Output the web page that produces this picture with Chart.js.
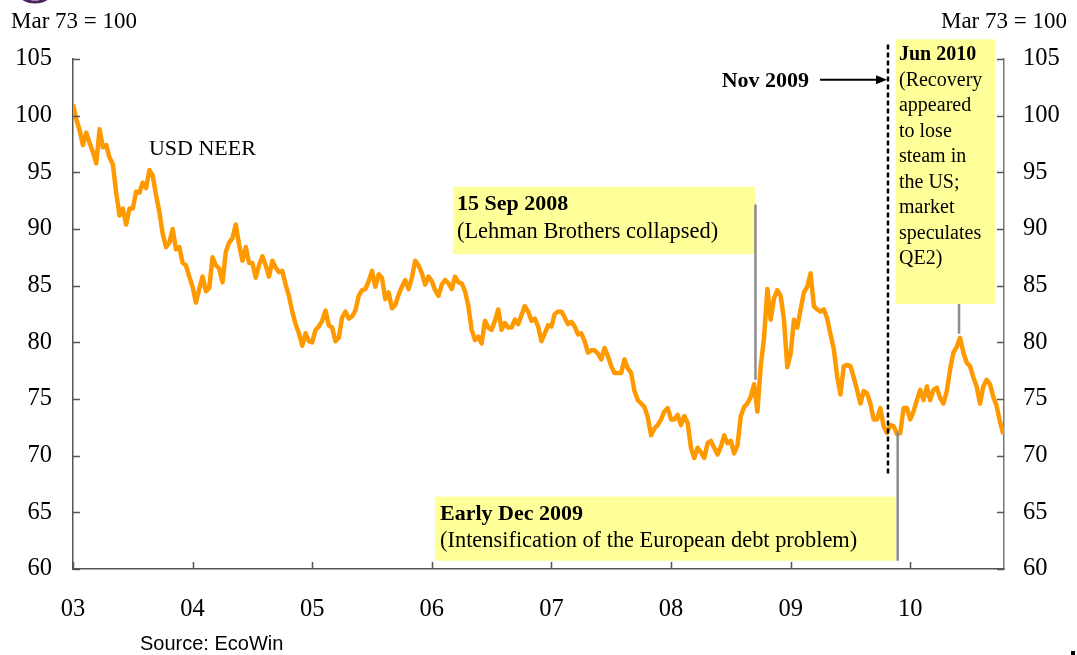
<!DOCTYPE html>
<html>
<head>
<meta charset="utf-8">
<script src="https://cdn.jsdelivr.net/npm/chart.js@4"></script>
<style>
  html, body { margin: 0; padding: 0; background: #fff; }
  #wrap { width: 1077px; height: 655px; }
</style>
</head>
<body>
<div id="wrap"><canvas id="neer" width="1077" height="655"></canvas></div>
<script>
// USD nominal effective exchange rate (Mar 73 = 100), one reading every ~10 days from Jan 2003
const startYear = 2003;
const stepYears = 1 / 36;
const usdNeer = [
  101.0, 99.7, 98.7, 97.4, 98.5, 97.6, 96.8, 95.8, 98.8, 97.2,
  97.4, 96.3, 95.7, 93.2, 91.2, 91.8, 90.4, 91.8, 91.8, 93.3,
  93.2, 94.1, 93.6, 95.2, 94.7, 93.0, 91.5, 89.6, 88.4, 88.8,
  90.0, 88.2, 88.4, 87.0, 86.8, 85.8, 84.9, 83.5, 84.7, 85.8,
  84.5, 84.8, 87.5, 86.8, 86.5, 85.3, 88.0, 88.8, 89.2, 90.4,
  88.6, 87.2, 88.4, 87.0, 87.0, 85.7, 86.8, 87.6, 86.8, 85.8,
  87.2, 86.6, 86.2, 86.3, 85.1, 84.1, 82.7, 81.6, 80.8, 79.7,
  80.8, 80.1, 80.0, 81.1, 81.4, 81.9, 82.8, 81.5, 81.3, 80.1,
  80.4, 82.2, 82.7, 82.1, 82.3, 82.8, 84.1, 84.6, 84.7, 85.4,
  86.3, 84.9, 86.0, 85.7, 83.8, 84.4, 83.0, 83.3, 84.2, 84.9,
  85.5, 84.7, 85.7, 87.2, 86.8, 86.1, 85.1, 85.8, 85.4, 84.6,
  84.1, 85.1, 85.5, 85.2, 84.7, 85.8,
  85.3, 85.2, 84.5, 83.2, 81.1, 80.2, 80.5, 79.9, 81.9, 81.3,
  81.1, 81.9, 82.9, 81.1, 81.7, 81.3, 81.3, 82.0, 81.6, 82.4,
  83.2, 82.7, 81.9, 82.1, 81.4, 80.1, 80.8, 81.5, 81.4, 82.5,
  82.7, 82.7, 82.2, 81.6, 81.8, 81.4, 80.7, 80.8, 80.1, 79.1,
  79.3, 79.3, 79.0, 78.5, 79.5, 78.8, 77.9, 77.3, 77.3, 77.3,
  78.5, 77.7, 77.3, 75.7, 74.9, 74.6, 74.3, 73.4,
  71.8, 72.4, 72.7, 73.2, 73.9, 74.2,
  73.2, 73.2, 73.6, 72.7, 73.5, 72.9, 70.7, 69.8, 70.7, 70.3,
  69.8, 71.1, 71.3, 70.7, 70.1, 70.8, 71.8, 71.1, 71.3, 70.2,
  70.9, 73.5, 74.3, 74.6, 75.2, 76.3, 73.9, 77.9, 80.4, 84.7,
  82.0, 83.9, 84.6, 84.1, 82.0, 77.8, 79.0, 82.0, 81.3, 82.9,
  84.4, 84.9, 86.1, 83.2, 82.9, 82.7, 82.9, 82.1, 80.7, 79.4,
  77.0, 75.4, 77.9, 78.0, 77.9, 76.9, 75.8, 74.6, 75.7, 75.5,
  74.6, 73.2, 73.2, 74.2, 72.6, 72.0, 72.7, 72.6, 71.9, 72.0,
  74.2, 74.2, 73.2, 73.9, 74.9, 75.8, 74.9, 76.1, 74.9, 75.8,
  76.0, 75.1, 74.6, 75.7, 77.6, 79.1, 79.6, 80.4, 79.1, 78.2,
  77.9, 76.9, 76.1, 74.6, 76.1, 76.7, 76.3, 75.2, 74.4, 73.0,
  71.9
];
const yearTicks = [2003, 2004, 2005, 2006, 2007, 2008, 2009, 2010];
const levelTicks = [60, 65, 70, 75, 80, 85, 90, 95, 100, 105];

const points = usdNeer.map((v, i) => ({ x: startYear + i * stepYears, y: v }));

const serif = '"Liberation Serif", "Times New Roman", serif';
Chart.defaults.font.family = serif;

function txt(ctx, s, px, py, font, align) {
  ctx.font = font;
  ctx.textAlign = align || 'left';
  ctx.textBaseline = 'alphabetic';
  ctx.fillStyle = '#000';
  ctx.fillText(s, px, py);
}

const extras = {
  id: 'extras',
  afterDatasetsDraw(chart) {
    const { ctx, chartArea: a, scales: { x, y } } = chart;
    const X = v => x.getPixelForValue(v);
    const Y = v => y.getPixelForValue(v);
    ctx.save();

    // inward tick marks
    ctx.strokeStyle = '#555';
    ctx.lineWidth = 1.5;
    ctx.beginPath();
    levelTicks.forEach(v => {
      const py = Math.round(Y(v)) + 0.5;
      ctx.moveTo(a.left, py); ctx.lineTo(a.left + 7, py);
      ctx.moveTo(a.right, py); ctx.lineTo(a.right - 7, py);
    });
    yearTicks.forEach(v => {
      const px = Math.round(X(v)) + 0.5;
      ctx.moveTo(px, a.bottom); ctx.lineTo(px, a.bottom - 7);
    });
    ctx.stroke();

    // yellow callout boxes
    const box = (x0, x1, y0, y1) => {
      ctx.fillStyle = '#FFFF99';
      ctx.fillRect(X(x0), Y(y0), X(x1) - X(x0), Y(y1) - Y(y0));
    };
    const grey = (xv, y0, y1) => {
      ctx.strokeStyle = '#8c8c8c';
      ctx.lineWidth = 2.5;
      ctx.beginPath();
      ctx.moveTo(X(xv), Y(y0)); ctx.lineTo(X(xv), Y(y1));
      ctx.stroke();
    };
    const bold = 'bold 22px ' + serif;
    const reg = '22.4px ' + serif;

    box(2006.177, 2008.706, 93.72, 87.78);
    grey(2008.706, 92.16, 76.7);
    txt(ctx, '15 Sep 2008', X(2006.177) + 4, Y(93.72) + 23, bold);
    txt(ctx, '(Lehman Brothers collapsed)', X(2006.177) + 4, Y(93.72) + 51, reg);

    box(2006.027, 2009.881, 66.39, 60.73);
    grey(2009.895, 72.13, 60.73);
    txt(ctx, 'Early Dec 2009', X(2006.027) + 5, Y(66.39) + 23, bold);
    txt(ctx, '(Intensification of the European debt problem)', X(2006.027) + 5, Y(66.39) + 50, reg);

    box(2009.881, 2010.709, 106.73, 83.38);
    grey(2010.408, 83.38, 80.76);
    const junLines = ['(Recovery', 'appeared', 'to lose', 'steam in', 'the US;', 'market', 'speculates', 'QE2)'];
    const jl = X(2009.881) + 3, jt = Y(106.73);
    txt(ctx, 'Jun 2010', jl, jt + 21, 'bold 20px ' + serif);
    junLines.forEach((s, i) => txt(ctx, s, jl, jt + 46.5 + i * 25.5, '20px ' + serif));

    // Nov 2009 dashed marker and arrow
    ctx.strokeStyle = '#000';
    ctx.lineWidth = 2.5;
    ctx.setLineDash([5, 3]);
    ctx.beginPath();
    ctx.moveTo(X(2009.814), Y(106.29)); ctx.lineTo(X(2009.814), Y(68.39));
    ctx.stroke();
    ctx.setLineDash([]);
    const ay = Y(103.16), ax = X(2009.814) - 1;
    ctx.lineWidth = 2;
    ctx.beginPath();
    ctx.moveTo(X(2009.246), ay); ctx.lineTo(ax - 8, ay);
    ctx.stroke();
    ctx.fillStyle = '#000';
    ctx.beginPath();
    ctx.moveTo(ax, ay); ctx.lineTo(ax - 11, ay - 4.5); ctx.lineTo(ax - 11, ay + 4.5); ctx.closePath();
    ctx.fill();
    txt(ctx, 'Nov 2009', X(2009.246) - 11, ay + 7, bold, 'right');

    txt(ctx, 'USD NEER', X(2003.635), Y(96.57), '22px ' + serif);
    ctx.restore();
  },
  afterDraw(chart) {
    const { ctx } = chart;
    ctx.save();
    txt(ctx, 'Mar 73 = 100', 11, 28, '23px ' + serif, 'left');
    txt(ctx, 'Mar 73 = 100', 1067, 28, '23px ' + serif, 'right');
    txt(ctx, 'Source: EcoWin', 140, 650, '20px "Liberation Sans", Arial, sans-serif', 'left');
    // edge of the logo at the top left
    ctx.fillStyle = '#ece6f0';
    ctx.strokeStyle = '#4e2260';
    ctx.lineWidth = 3;
    ctx.beginPath();
    ctx.ellipse(35, -19, 22, 21, 0, 0, Math.PI * 2);
    ctx.fill();
    ctx.stroke();
    ctx.fillStyle = '#000';
    ctx.fillRect(1071, 651, 4, 4);
    ctx.restore();
  }
};

const tickFont = { size: 24.5, family: serif };

new Chart(document.getElementById('neer'), {
  type: 'line',
  data: {
    datasets: [{
      label: 'USD NEER',
      data: points,
      yAxisID: 'y',
      borderColor: '#FF9900',
      borderWidth: 4.5,
      borderJoinStyle: 'round',
      pointRadius: 0,
      tension: 0,
      fill: false
    }]
  },
  options: {
    responsive: false,
    animation: false,
    devicePixelRatio: 1,
    layout: { padding: { top: 59, left: 0, right: 0, bottom: 0 } },
    plugins: { legend: { display: false }, tooltip: { enabled: false } },
    scales: {
      x: {
        type: 'linear',
        min: 2003,
        max: 2010.784,
        afterFit: s => { s.height = 86; },
        afterBuildTicks: s => { s.ticks = yearTicks.map(v => ({ value: v })); },
        grid: { drawOnChartArea: false, drawTicks: false },
        border: { color: '#555', width: 1.5 },
        ticks: { font: tickFont, color: '#000', padding: 26, maxRotation: 0, callback: v => String(v).slice(2) }
      },
      y: {
        position: 'left',
        min: 60,
        max: 105,
        afterFit: s => { s.width = 73; },
        afterBuildTicks: s => { s.ticks = levelTicks.map(v => ({ value: v })); },
        grid: { drawOnChartArea: false, drawTicks: false },
        border: { color: '#555', width: 1.5 },
        ticks: { font: tickFont, color: '#000', padding: 21 }
      },
      y2: {
        position: 'right',
        min: 60,
        max: 105,
        afterFit: s => { s.width = 73; },
        afterBuildTicks: s => { s.ticks = levelTicks.map(v => ({ value: v })); },
        grid: { drawOnChartArea: false, drawTicks: false },
        border: { color: '#777', width: 1.5 },
        ticks: { font: tickFont, color: '#000', padding: 19 }
      }
    }
  },
  plugins: [extras]
});
</script>
</body>
</html>
